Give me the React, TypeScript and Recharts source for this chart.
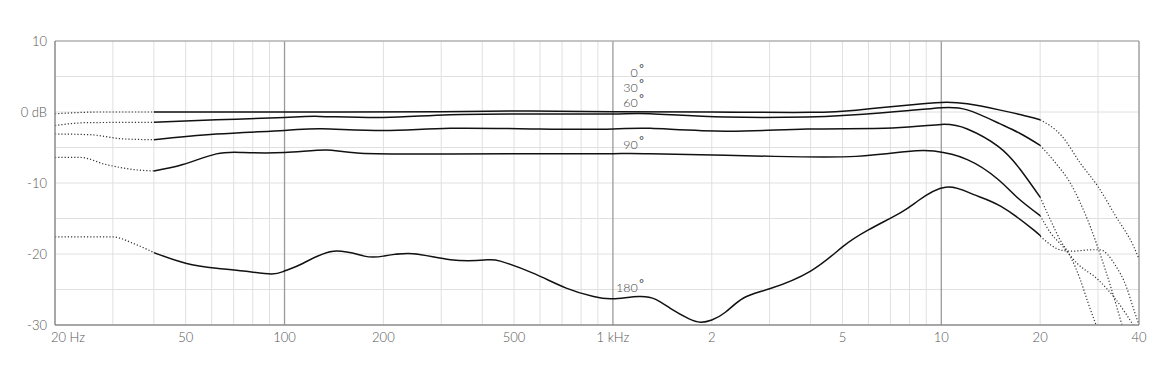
import { LineChart, Line, XAxis, YAxis, ReferenceLine, ReferenceDot } from "recharts";

// [frequency Hz, level dB]
const solid0 = [[40, 0], [100, 0], [300, 0.05], [560, 0.15], [1000, 0.05], [2000, 0], [4000, -0.05], [5500, 0.25], [6500, 0.6], [8000, 1.0], [10000, 1.35], [12000, 1.15], [15000, 0.3], [17500, -0.4], [20000, -1.1]];
const low0 = [[20, -0.25], [23, -0.1], [27, 0], [40, 0]];
const high0 = [[20000, -1.1], [23300, -3.4], [26500, -7.2], [30000, -10.5], [34000, -14.7], [38500, -18.9], [40000, -20.7]];

const solid30 = [[40, -1.45], [62, -1.1], [100, -0.76], [128, -0.62], [200, -0.76], [320, -0.38], [600, -0.28], [1000, -0.28], [1300, -0.24], [2200, -0.7], [3900, -0.7], [5000, -0.5], [6500, -0.15], [8000, 0.2], [10000, 0.6], [12000, 0.3], [15000, -1.6], [17500, -3.1], [20000, -4.7]];
const low30 = [[20, -1.9], [25, -1.5], [40, -1.45]];
const high30 = [[20000, -4.7], [22300, -7.2], [24700, -10], [26500, -12.8], [28400, -16.1], [30400, -19.9], [32800, -24.6], [35500, -30]];

const solid60 = [[40, -3.9], [62, -3.1], [100, -2.6], [130, -2.35], [200, -2.6], [320, -2.3], [600, -2.4], [1000, -2.4], [1300, -2.3], [2200, -2.7], [3900, -2.4], [7100, -2.25], [10000, -1.75], [12000, -2.4], [14900, -4.85], [17400, -8.1], [20000, -12.0]];
const low60 = [[20, -3.1], [25.6, -3.2], [32.5, -3.8], [40, -3.9]];
const high60 = [[20000, -12.0], [21500, -15.2], [23000, -18], [24700, -20.3], [26500, -23.6], [28000, -26.9], [29600, -30]];

const solid90 = [[40, -8.3], [49, -7.4], [62, -5.9], [75, -5.7], [100, -5.7], [134, -5.35], [170, -5.8], [320, -5.9], [600, -5.87], [1000, -5.87], [1300, -5.87], [3100, -6.25], [5500, -6.25], [7900, -5.55], [9500, -5.5], [12000, -6.7], [14900, -9.5], [17000, -12.0], [20000, -14.6]];
const low90 = [[20, -6.4], [23.9, -6.4], [28.6, -7.4], [36.3, -8.2], [40, -8.3]];
const high90 = [[20000, -14.6], [21500, -17], [23400, -18.9], [25900, -21.3], [30000, -23.6], [34000, -26.4], [38400, -30]];

const solid180 = [[40, -19.8], [50, -21.3], [62, -22.0], [75, -22.4], [91, -22.8], [100, -22.4], [114, -21.3], [141, -19.6], [175, -20.3], [200, -20.3], [246, -19.96], [320, -20.8], [406, -20.85], [454, -21.0], [571, -22.7], [721, -24.8], [873, -26.0], [1000, -26.3], [1200, -26.0], [1350, -26.4], [1500, -27.7], [1700, -29.1], [1850, -29.6], [2000, -29.3], [2200, -28.2], [2500, -26.2], [3000, -24.9], [4000, -22.4], [5000, -19.0], [6000, -16.6], [7500, -14.2], [8500, -12.5], [10300, -10.6], [12500, -11.6], [15200, -13.3], [19100, -16.6], [20000, -17.5]];
const low180 = [[20, -17.6], [30, -17.6], [35, -18.6], [40, -19.8]];
const high180 = [[20000, -17.5], [23400, -19.5], [25000, -19.6], [28800, -19.4], [30400, -19.4], [34000, -21.7], [36600, -24.6], [38300, -27.4], [40000, -30]];

const xTicks = [20, 50, 100, 200, 500, 1000, 2000, 5000, 10000, 20000, 40000];
const xTickLabels = ["20 Hz", "50", "100", "200", "500", "1 kHz", "2", "5", "10", "20", "40"];
const yTicks = [10, 0, -10, -20, -30];
const minorFreqs = [30, 40, 50, 60, 70, 80, 90, 200, 300, 400, 500, 600, 700, 800, 900, 2000, 3000, 4000, 5000, 6000, 7000, 8000, 9000, 20000, 30000];
const majorFreqs = [100, 1000, 10000];
const gridLevels = [5, 0, -5, -10, -15, -20, -25];

// curve labels: angle, level dB at label centre
const angleLabels = [["0", 5.6], ["30", 3.5], ["60", 1.4], ["90", -4.6], ["180", -24.7]];
const labelFreq = 1190;

const toPoints = (rows: number[][]) => rows.map(([f, db]) => ({ f, db }));

const solidSeries = [solid0, solid30, solid60, solid90, solid180];
const dottedSeries = [low0, high0, low30, high30, low60, high60, low90, high90, low180, high180];

const FONT = "Lato, 'Open Sans', sans-serif";

function XTick({ x, y, payload }: any) {
  const i = xTicks.indexOf(payload.value);
  const first = i === 0;
  return (
    <text x={first ? x - 4 : x} y={y} dy="0.71em" textAnchor={first ? "start" : "middle"} fill="#555" fontSize={13} fontFamily={FONT} fontWeight={300}>
      {xTickLabels[i]}
    </text>
  );
}

function AngleLabel({ viewBox, text }: any) {
  const { x, y } = viewBox;
  return (
    <g>
      <text x={x} y={y} textAnchor="end" dominantBaseline="central" fill="#444" fontSize={12.5} fontFamily={FONT} fontWeight={300}>
        {text}
      </text>
      <text x={x + 1.5} y={y - 4} textAnchor="start" dominantBaseline="central" fill="#333" fontSize={11} fontFamily={FONT}>
        °
      </text>
    </g>
  );
}

export default function App() {
  return (
    <div style={{ position: "absolute", left: 0, top: 0, background: "#fff" }}>
      <LineChart width={1170} height={377} margin={{ top: 41, right: 31, bottom: 22, left: 0 }}>
        <XAxis
          dataKey="f"
          type="number"
          scale="log"
          domain={[20, 40000]}
          ticks={xTicks}
          allowDataOverflow
          tickLine={false}
          tickSize={0}
          tickMargin={8}
          height={30}
          axisLine={{ stroke: "#8a8a8a", strokeWidth: 1.5 }}
          tick={<XTick />}
          interval={0}
        />
        <YAxis
          type="number"
          domain={[-30, 10]}
          ticks={yTicks}
          allowDataOverflow
          width={55}
          tickLine={false}
          tickSize={0}
          tickMargin={8}
          axisLine={{ stroke: "#8a8a8a", strokeWidth: 1.5 }}
          tickFormatter={(v: number) => (v === 0 ? "0 dB" : `${v}`)}
          tick={{ fill: "#555", fontSize: 13, fontFamily: FONT, fontWeight: 300 }}
        />
        {gridLevels.map((v) => (
          <ReferenceLine key={`h${v}`} y={v} stroke="#e0e0e0" strokeWidth={1} />
        ))}
        {minorFreqs.map((f) => (
          <ReferenceLine key={`v${f}`} x={f} stroke="#e0e0e0" strokeWidth={1} />
        ))}
        {majorFreqs.map((f) => (
          <ReferenceLine key={`m${f}`} x={f} stroke="#9a9a9a" strokeWidth={1.3} />
        ))}
        <ReferenceLine y={10} stroke="#b0b0b0" strokeWidth={1.3} />
        <ReferenceLine x={40000} stroke="#a0a0a0" strokeWidth={1.5} />
        {dottedSeries.map((rows, i) => (
          <Line
            key={`d${i}`}
            data={toPoints(rows)}
            dataKey="db"
            type="monotone"
            stroke="#333"
            strokeWidth={1.2}
            strokeDasharray="1.2 2"
            dot={false}
            activeDot={false}
            isAnimationActive={false}
          />
        ))}
        {solidSeries.map((rows, i) => (
          <Line
            key={`s${i}`}
            data={toPoints(rows)}
            dataKey="db"
            type="natural"
            stroke="#111"
            strokeWidth={1.5}
            dot={false}
            activeDot={false}
            isAnimationActive={false}
          />
        ))}
        {angleLabels.map(([t, db]) => (
          <ReferenceDot key={`l${t}`} x={labelFreq} y={db as number} r={0} fill="none" stroke="none" label={<AngleLabel text={t} />} />
        ))}
      </LineChart>
    </div>
  );
}
